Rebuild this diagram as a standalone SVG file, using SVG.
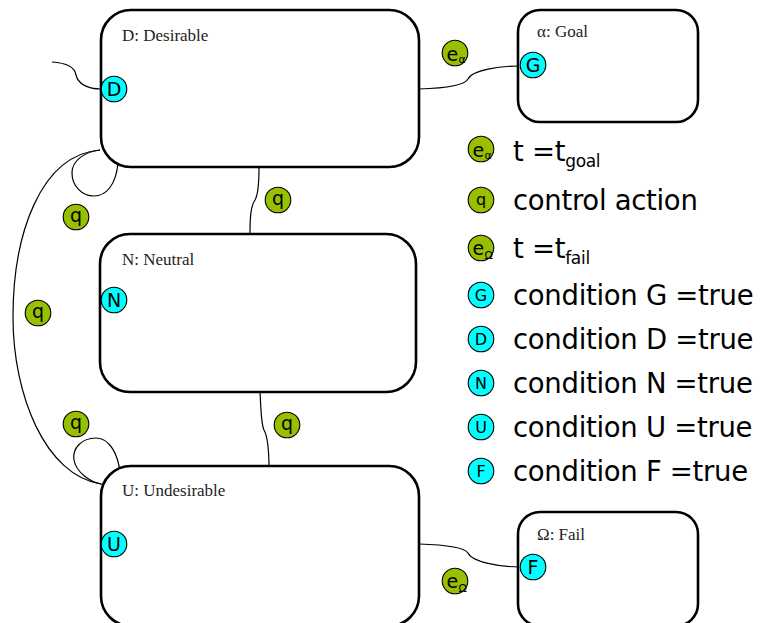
<svg xmlns="http://www.w3.org/2000/svg" width="765" height="623" viewBox="0 0 765 623">
<style>
.box{fill:#fff;stroke:#000;stroke-width:2.6}
.lbl{font-family:"Liberation Serif","Times New Roman",serif;font-size:17px;fill:#222}
.cond{fill:#00ffff;stroke:#000;stroke-width:1.1}
.act{fill:#99c000;stroke:#000;stroke-width:1.1}
.ct{font-family:"DejaVu Sans",sans-serif;font-size:19px;fill:#000;text-anchor:middle}
.lt{font-family:"DejaVu Sans",sans-serif;font-size:16px;fill:#000;text-anchor:middle}
.es{font-family:"DejaVu Sans",sans-serif;font-size:19px;fill:#000}
.sub{font-family:"DejaVu Sans",sans-serif;font-size:11px;fill:#000}
.leg{font-family:"DejaVu Sans",sans-serif;font-size:27.5px;letter-spacing:-0.3px;fill:#000}
.edge{fill:none;stroke:#000;stroke-width:1.2}
</style>
<rect width="765" height="623" fill="#fff"/>
<g id="connectors">
<path class="edge" d="M52,62 C68,63 75,68 76,75 C78,84 88,89 101,89"/>
<path class="edge" d="M419,89 C450,88 465,85 468,79 C472,70 500,66 520,66"/>
<path class="edge" d="M259,167 C259,185 258,195 255,200 C251,206 250,215 250,234"/>
<path class="edge" d="M260,391 C261,410 261,424 264,430 C268,437 269,450 269,469"/>
<path class="edge" d="M419,544 C450,545 465,548 468,553 C472,562 500,567 520,567"/>
<path class="edge" d="M100,150 C40,155 13,235 13,317 C13,395 45,475 101,484"/>
<path class="edge" d="M100,150 C85,152 72,160 72,173 C72,186 82,196 94,196 C106,196 116,185 118,163"/>
<path class="edge" d="M120,472 C118,455 110,438 96,438 C82,438 72,448 74,460 C76,472 90,482 101,484"/>
<path class="edge" d="M101,484 L107,485"/>
</g>
<g id="node-D">
<rect class="box" x="101" y="10" width="318" height="157" rx="30"/>
<text class="lbl" x="122" y="41">D: Desirable</text>
<circle class="cond" cx="114" cy="89" r="12.8"/>
<text class="ct" x="114" y="96">D</text>
</g>
<g id="node-Goal">
<rect class="box" x="518" y="10" width="180" height="112" rx="22"/>
<text class="lbl" x="537" y="37">α: Goal</text>
<circle class="cond" cx="533" cy="65" r="12.8"/>
<text class="ct" x="533" y="72">G</text>
</g>
<g id="node-N">
<rect class="box" x="100" y="234" width="316" height="158" rx="30"/>
<text class="lbl" x="122" y="265">N: Neutral</text>
<circle class="cond" cx="114" cy="300" r="12.8"/>
<text class="ct" x="114" y="307">N</text>
</g>
<g id="node-U">
<rect class="box" x="101" y="466" width="318" height="160" rx="30"/>
<text class="lbl" x="122" y="496">U: Undesirable</text>
<circle class="cond" cx="114" cy="544" r="12.8"/>
<text class="ct" x="114" y="551">U</text>
</g>
<g id="node-Fail">
<rect class="box" x="518" y="512" width="180" height="114" rx="22"/>
<text class="lbl" x="537" y="540">Ω: Fail</text>
<circle class="cond" cx="533" cy="567" r="12.8"/>
<text class="ct" x="533" y="574">F</text>
</g>
<g id="badge-e-alpha">
<circle class="act" cx="455" cy="53" r="12.8"/>
<text class="es" x="446.5" y="60.5">e</text><text class="sub" x="458.5" y="63">α</text>
</g>
<g id="badge-e-omega">
<circle class="act" cx="455" cy="581" r="12.8"/>
<text class="es" x="446.5" y="588">e</text><text class="sub" x="458.5" y="592">Ω</text>
</g>
<g id="badge-q1"><circle class="act" cx="278" cy="200" r="12.8"/><text class="ct" x="278" y="205">q</text></g>
<g id="badge-q2"><circle class="act" cx="76" cy="217" r="12.8"/><text class="ct" x="76" y="222">q</text></g>
<g id="badge-q3"><circle class="act" cx="38" cy="313" r="12.8"/><text class="ct" x="38" y="318">q</text></g>
<g id="badge-q4"><circle class="act" cx="76" cy="424" r="12.8"/><text class="ct" x="76" y="429">q</text></g>
<g id="badge-q5"><circle class="act" cx="287" cy="425" r="12.8"/><text class="ct" x="287" y="430">q</text></g>
<g id="legend">
<circle class="act" cx="481" cy="149" r="12.8"/>
<text class="es" x="472.5" y="156.5">e</text><text class="sub" x="484.5" y="159">α</text>
<text class="leg" x="513" y="161">t =t<tspan font-size="17" dy="6">goal</tspan></text>
<circle class="act" cx="481" cy="200" r="12.8"/>
<text class="lt" x="481" y="205">q</text>
<text class="leg" x="513" y="210">control action</text>
<circle class="act" cx="481" cy="248" r="12.8"/>
<text class="es" x="472.5" y="255">e</text><text class="sub" x="484.5" y="259">Ω</text>
<text class="leg" x="513" y="258">t =t<tspan font-size="17" dy="6">fail</tspan></text>
<circle class="cond" cx="481" cy="295" r="12.8"/>
<text class="lt" x="481" y="301">G</text>
<text class="leg" x="513" y="305">condition G =true</text>
<circle class="cond" cx="481" cy="339" r="12.8"/>
<text class="lt" x="481" y="345">D</text>
<text class="leg" x="513" y="349">condition D =true</text>
<circle class="cond" cx="481" cy="383" r="12.8"/>
<text class="lt" x="481" y="389">N</text>
<text class="leg" x="513" y="393">condition N =true</text>
<circle class="cond" cx="481" cy="427" r="12.8"/>
<text class="lt" x="481" y="433">U</text>
<text class="leg" x="513" y="437">condition U =true</text>
<circle class="cond" cx="481" cy="471" r="12.8"/>
<text class="lt" x="481" y="477">F</text>
<text class="leg" x="513" y="481">condition F =true</text>
</g>
</svg>
